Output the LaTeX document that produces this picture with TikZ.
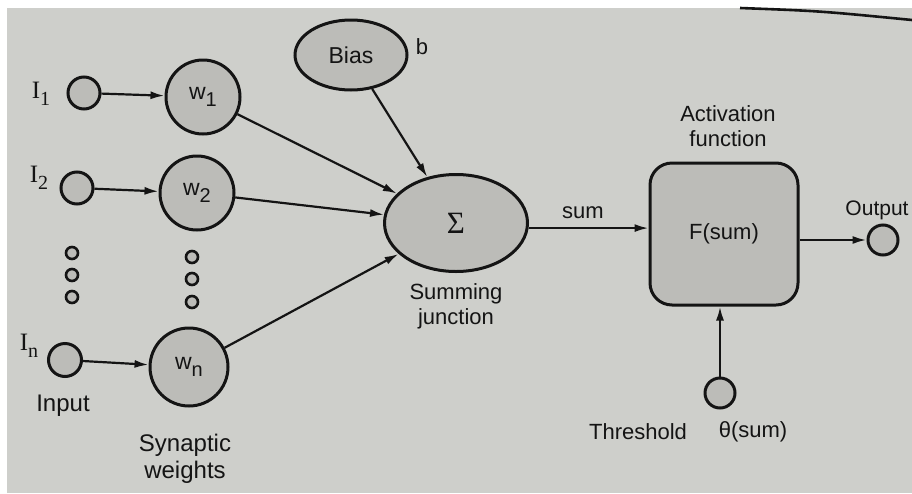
\documentclass[tikz,border=0pt]{standalone}
\usepackage{fontspec}
\setmainfont{Liberation Sans}
\newfontfamily\serfont{Liberation Serif}
\usetikzlibrary{arrows.meta,shapes.geometric}
\definecolor{paper}{RGB}{206,207,203}
\definecolor{nodefill}{RGB}{188,188,184}
\definecolor{ink}{RGB}{20,20,20}
\newcommand{\lowsub}[1]{\raisebox{-7pt}{\fontsize{20}{20}\selectfont #1}}
\tikzset{
  lbl/.style={font=\fontsize{22}{25}\selectfont, text=ink, inner sep=0pt, align=center},
  big/.style={font=\fontsize{24}{27}\selectfont},
  circ/.style={circle, draw=ink, line width=3pt, fill=nodefill, inner sep=0pt, minimum size=#1},
  wnode/.style={circ=74pt, font=\fontsize{23}{25}\selectfont, text=ink},
  dotc/.style={circle, draw=ink, line width=2.6pt, fill=nodefill, inner sep=0pt, minimum size=12pt},
  arr/.style={draw=ink, line width=2.2pt, -{Latex[length=14pt,width=8pt]}},
  ilbl/.style={font=\fontsize{25}{26}\serfont, text=ink, inner sep=0pt},
}
\begin{document}
\begin{tikzpicture}[x=1pt,y=-1pt]
\useasboundingbox (0,0) rectangle (912,493);
\fill[white] (0,0) rectangle (912,493);
\fill[paper] (7,8) rectangle (912,493);
\draw[ink, line width=2.6pt] (740,8) .. controls (820,11) .. (912,20);

% inputs
\node[circ=32pt] (i1) at (84,93) {};
\node[circ=32pt] (i2) at (77,188) {};
\node[circ=33pt] (in) at (65,360) {};
\node[ilbl] (li1) at (41,94) {I\lowsub{1}};
\node[ilbl] (li2) at (39,178) {I\lowsub{2}};
\node[ilbl] (lin) at (29,346) {I\lowsub{n}};

% dots
\node[dotc] (da1) at (72,253) {};
\node[dotc] (da2) at (72,275) {};
\node[dotc] (da3) at (72,297) {};
\node[dotc] (db1) at (192,257) {};
\node[dotc] (db2) at (192,279) {};
\node[dotc] (db3) at (192,302) {};

% weights
\node[wnode] (w1) at (203,97) {w\lowsub{1}};
\node[wnode] (w2) at (197,193) {w\lowsub{2}};
\node[wnode, minimum size=78pt] (wn) at (189,367) {w\lowsub{n}};

% bias and summing junction
\node[ellipse, draw=ink, line width=3pt, fill=nodefill, minimum width=112pt, minimum height=70pt, inner sep=0pt, font=\fontsize{23}{25}\selectfont, text=ink] (bias) at (351,55) {Bias};
\node[lbl] (lb) at (422,47) {b};
\node[ellipse, draw=ink, line width=3pt, fill=nodefill, minimum width=143pt, minimum height=97pt, inner sep=0pt, font=\fontsize{31}{31}\serfont, text=ink] (sig) at (456,223) {Σ};
\node[lbl] (lsum) at (456,306) {Summing\\junction};

% activation
\node[draw=ink, line width=3pt, fill=nodefill, rounded corners=22pt, minimum width=148pt, minimum height=142pt, inner sep=0pt, font=\fontsize{22}{25}\selectfont, text=ink] (box) at (724,234) {F(sum)};
\node[lbl] (lact) at (728,126) {Activation\\function};
\node[circ=30pt] (out) at (883,240) {};
\node[lbl, font=\fontsize{21}{23}\selectfont] (lout) at (877,210) {Output};
\node[circ=30pt] (th) at (720,393) {};
\node[lbl] (lth) at (638,432) {Threshold};
\node[lbl] (lthe) at (753,432) {θ(sum)};
\node[lbl] (lsm) at (583,213) {sum};

% labels left
\node[lbl, big] (linput) at (63,406) {Input};
\node[lbl, big] (lsyn) at (185,459) {Synaptic\\weights};

% connectors
\draw[arr] (i1) -- (w1);
\draw[arr] (i2) -- (w2);
\draw[arr] (in) -- (wn);
\draw[arr] (w1) -- (sig);
\draw[arr] (w2) -- (sig);
\draw[arr] (wn) -- (sig);
\draw[arr] (bias) -- (sig);
\draw[arr] (sig.-4) -- (sig.-4 -| box.west);
\draw[arr] (box.east |- out) -- (out);
\draw[arr] (th) -- (th |- box.south);
\end{tikzpicture}
\end{document}
